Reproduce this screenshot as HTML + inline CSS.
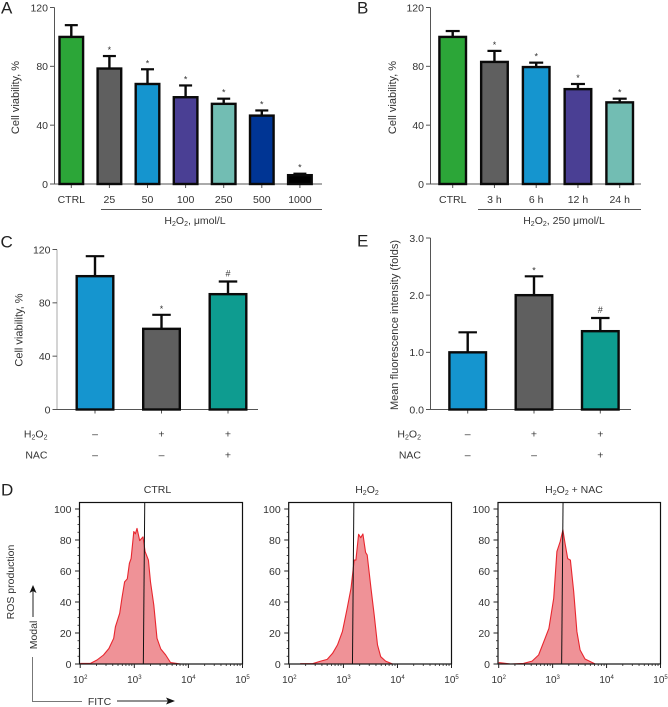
<!DOCTYPE html>
<html lang="en">
<head>
<meta charset="utf-8">
<title>Cell viability and ROS production</title>
<style>
html,body{margin:0;padding:0;background:#fff;}
svg{display:block;font-family:"Liberation Sans",sans-serif;fill:#333;}
</style>
</head>
<body>
<svg id="figure" xmlns="http://www.w3.org/2000/svg" width="668" height="707" viewBox="0 0 668 707" font-size="10.5">
  <rect width="668" height="707" fill="#fff"/>
  <g id="panel-a"></g>
  <g id="panel-b"></g>
  <g id="panel-c"></g>
  <g id="panel-e"></g>
  <g id="panel-d1"></g>
  <g id="panel-d2"></g>
  <g id="panel-d3"></g>

  <g font-size="17" fill="#222">
    <text x="1" y="13.5">A</text>
    <text x="357" y="13.5">B</text>
    <text x="0.5" y="247.5">C</text>
    <text x="357" y="246.5">E</text>
    <text x="1" y="495.5">D</text>
  </g>

  <g>
    <line x1="101" y1="209.5" x2="322" y2="209.5" stroke="#555" stroke-width="1"/>
    <text x="195" y="224" text-anchor="middle">H<tspan font-size="7" dy="2">2</tspan><tspan dy="-2">O</tspan><tspan font-size="7" dy="2">2</tspan><tspan dy="-2">, μmol/L</tspan></text>
    <line x1="478" y1="209.5" x2="641" y2="209.5" stroke="#555" stroke-width="1"/>
    <text x="564" y="224" text-anchor="middle">H<tspan font-size="7" dy="2">2</tspan><tspan dy="-2">O</tspan><tspan font-size="7" dy="2">2</tspan><tspan dy="-2">, 250 μmol/L</tspan></text>
  </g>

  <g>
    <text x="47.5" y="437.5" text-anchor="end">H<tspan font-size="7" dy="2">2</tspan><tspan dy="-2">O</tspan><tspan font-size="7" dy="2">2</tspan></text>
    <text x="47.5" y="458.5" text-anchor="end">NAC</text>
  </g>
  <g>
    <text x="421" y="437.5" text-anchor="end">H<tspan font-size="7" dy="2">2</tspan><tspan dy="-2">O</tspan><tspan font-size="7" dy="2">2</tspan></text>
    <text x="421" y="458.5" text-anchor="end">NAC</text>
  </g>

  <g>
    <text x="157.5" y="493" text-anchor="middle">CTRL</text>
    <text x="367" y="493" text-anchor="middle">H<tspan font-size="7" dy="2">2</tspan><tspan dy="-2">O</tspan><tspan font-size="7" dy="2">2</tspan></text>
    <text x="574" y="493" text-anchor="middle">H<tspan font-size="7" dy="2">2</tspan><tspan dy="-2">O</tspan><tspan font-size="7" dy="2">2</tspan><tspan dy="-2"> + NAC</tspan></text>
  </g>

  <g>
    <text transform="translate(14,582) rotate(-90)" text-anchor="middle">ROS production</text>
    <text transform="translate(37,635) rotate(-90)" text-anchor="middle">Modal</text>
    <text x="99.5" y="705" text-anchor="middle">FITC</text>
    <path d="M32.5 657V701.5H82" fill="none" stroke="#777" stroke-width="1"/>
    <line x1="33" y1="617" x2="33" y2="590" stroke="#222" stroke-width="1"/>
    <path d="M33 585L36.5 593L33 591L29.5 593Z" fill="#111"/>
    <line x1="117" y1="701" x2="170" y2="701" stroke="#222" stroke-width="1"/>
    <path d="M175 701L166 704.5L168 701L166 697.5Z" fill="#111"/>
  </g>
</svg>

<script>
const svgNS = 'http://www.w3.org/2000/svg';

// Panel A data
const aCategories = ['CTRL', '25', '50', '100', '250', '500', '1000'];
const aValues = [100, 78.5, 68, 59, 54.5, 46.5, 6];
const aErrorTops = [108, 87, 78, 67, 58, 50, 7];
const aMarks = ['', '*', '*', '*', '*', '*', '*'];
const aColors = ['#2ca638', '#5f5f5f', '#1595cf', '#4a3f94', '#72bdb3', '#003594', '#000000'];

// Panel B data
const bCategories = ['CTRL', '3 h', '6 h', '12 h', '24 h'];
const bValues = [100, 83, 79.5, 64.5, 55.5];
const bErrorTops = [104, 90.5, 82.5, 68, 58];
const bMarks = ['', '*', '*', '*', '*'];
const bColors = ['#2ca638', '#5f5f5f', '#1595cf', '#4a3f94', '#72bdb3'];

// Panel C data
const cH2O2 = ['–', '+', '+'];
const cNAC = ['–', '–', '+'];
const cValues = [100, 60.5, 86.5];
const cErrorTops = [115, 71, 96];
const cMarks = ['', '*', '#'];
const cColors = ['#1595cf', '#5f5f5f', '#0e9c90'];

// Panel E data
const eH2O2 = ['–', '+', '+'];
const eNAC = ['–', '–', '+'];
const eValues = [1.0, 2.0, 1.37];
const eErrorTops = [1.35, 2.33, 1.6];
const eMarks = ['', '*', '#'];
const eColors = ['#1595cf', '#5f5f5f', '#0e9c90'];

// Shared tick labels
const viabilityTicks = [0, 40, 80, 120];
const foldTicks = ['0.0', '1.0', '2.0', '3.0'];
const modalTicks = [0, 20, 40, 60, 80, 100];
const fitcExponents = [2, 3, 4, 5];

// Panel D data: log10(FITC intensity) and modal percent
const ctrlLogFitc = [2.00, 2.19, 2.31, 2.43, 2.53, 2.62, 2.65, 2.73, 2.77, 2.82, 2.87, 2.91, 2.94, 2.99, 3.02, 3.05, 3.10, 3.16, 3.20, 3.26, 3.30, 3.36, 3.42, 3.49, 3.58, 3.67, 3.86];
const ctrlModal = [0.4, 0.4, 2.6, 5.8, 10, 16.6, 24, 32.7, 42.4, 53, 55, 65, 68, 85.4, 84, 87.5, 79.6, 82, 72.5, 67, 53, 38, 16.6, 9.7, 5.8, 1, 0];
const ctrlGate = 3.18;

const h2o2LogFitc = [2.20, 2.43, 2.58, 2.70, 2.80, 2.89, 2.98, 3.07, 3.14, 3.20, 3.23, 3.28, 3.32, 3.36, 3.41, 3.44, 3.51, 3.57, 3.63, 3.69, 3.78, 3.91];
const h2o2Modal = [0.2, 0.2, 1.9, 3, 6.9, 12.3, 20.9, 36, 48.8, 67, 67, 83.7, 81.5, 83.9, 72, 70.3, 48.8, 31.6, 12.3, 4.7, 1.9, 0];
const h2o2Gate = 3.18;

const nacLogFitc = [2.00, 2.22, 2.46, 2.62, 2.74, 2.86, 2.93, 3.02, 3.08, 3.14, 3.19, 3.23, 3.28, 3.33, 3.39, 3.45, 3.51, 3.60, 3.79];
const nacModal = [0.9, 0, 0.4, 1.9, 5.8, 16.6, 23, 42.4, 72.5, 79, 86.5, 78, 68, 67, 46.7, 20.9, 9, 3.2, 0];
const nacGate = 3.18;

function mk(parent, tag, attrs, content) {
  const node = document.createElementNS(svgNS, tag);
  Object.keys(attrs).forEach(function (k) { node.setAttribute(k, attrs[k]); });
  if (content !== undefined) node.textContent = content;
  parent.appendChild(node);
  return node;
}

function linear(d0, d1, r0, r1) {
  return function (v) { return r0 + (v - d0) / (d1 - d0) * (r1 - r0); };
}

function drawBars(o) {
  const g = document.getElementById(o.id);
  const y = linear(0, o.yMax, o.y0, o.yTop);
  const x = function (i) { return o.firstCenter + i * o.step; };

  let el = mk(g, 'line', { x1: o.axisX, y1: o.yTop, x2: o.axisX, y2: o.y0, stroke: o.yAxisColor, 'stroke-width': 1 });
  
  

  el = mk(g, 'line', { x1: o.axisX - 4.5, y1: o.y0, x2: o.axisEnd, y2: o.y0, stroke: '#555', 'stroke-width': 1 });
  
  

  el = mk(g, 'text', { transform: 'translate(' + o.titleX + ',' + o.titleY + ') rotate(-90)', 'text-anchor': 'middle', 'font-size': 11 }, o.title);
  
  

  o.ticks.forEach(function (t) {
    const ty = y(parseFloat(t));
    const tick = mk(g, 'line', { x1: o.axisX - 4.5, y1: ty, x2: o.axisX, y2: ty, stroke: '#555', 'stroke-width': 1 });
    
    
    const lab = mk(g, 'text', { x: o.axisX - 6.5, y: ty + 3.8, 'text-anchor': 'end' }, String(t));
    
    
  });

  o.values.forEach(function (v, i) {
    const cx = x(i);
    const top = y(v);
    const errY = y(o.errors[i]);

    const tick = mk(g, 'line', { x1: cx, y1: o.y0, x2: cx, y2: o.y0 + 4, stroke: '#555', 'stroke-width': 1 });
    
    

    const stem = mk(g, 'line', { x1: cx, y1: errY, x2: cx, y2: top, stroke: '#0a0a0a', 'stroke-width': 2.4 });
    
    

    const cap = mk(g, 'line', { x1: cx - o.capW / 2, y1: errY, x2: cx + o.capW / 2, y2: errY, stroke: '#0a0a0a', 'stroke-width': 2.2 });
    
    

    const bar = mk(g, 'rect', { x: cx - o.barW / 2 + 1.2, y: top, width: o.barW - 2.4, height: o.y0 - top, fill: o.colors[i], stroke: '#0a0a0a', 'stroke-width': 2.4 });
    
    

    if (o.marks[i]) {
      const isHash = o.marks[i] === '#';
      const mark = mk(g, 'text', { x: cx, y: errY - (isHash ? 5 : 3), 'text-anchor': 'middle', 'font-size': 9 }, o.marks[i]);
      
      
    }

    if (o.categories) {
      const lab = mk(g, 'text', { x: cx, y: 203, 'text-anchor': 'middle' }, o.categories[i]);
      
      
    }
    if (o.rowA) {
      const a = mk(g, 'text', { x: cx, y: 437.5, 'text-anchor': 'middle' }, o.rowA[i]);
      
      
      const b = mk(g, 'text', { x: cx, y: 458.5, 'text-anchor': 'middle' }, o.rowB[i]);
      
      
    }
  });
}

function drawFlow(o) {
  const g = document.getElementById(o.id);
  const yTop = 502.5, y0 = 664, y100 = 509;
  const x = linear(2, 5, o.left + 0.7, o.right);
  const y = linear(0, 100, y0, y100);

  let d = 'M' + x(o.logFitc[0]).toFixed(1) + ' ' + y(0);
  o.logFitc.forEach(function (v, i) {
    d += 'L' + x(v).toFixed(1) + ' ' + y(o.modal[i]).toFixed(1);
  });
  const lastX = x(o.logFitc[o.logFitc.length - 1]).toFixed(1);
  let el = mk(g, 'path', { d: d + 'L' + lastX + ' ' + y(0) + 'Z', fill: '#ef9297', stroke: 'none' });
  
  

  let line = '';
  o.logFitc.forEach(function (v, i) {
    line += (i ? 'L' : 'M') + x(v).toFixed(1) + ' ' + y(o.modal[i]).toFixed(1);
  });
  el = mk(g, 'path', { d: line, fill: 'none', stroke: '#e8262e', 'stroke-width': 1.1, 'stroke-linejoin': 'round' });
  
  

  el = mk(g, 'line', { x1: x(o.gate) + 0.7, y1: yTop, x2: x(o.gate) - 0.7, y2: y0, stroke: '#111', 'stroke-width': 1 });
  
  

  el = mk(g, 'rect', { x: o.left, y: yTop, width: o.right - o.left, height: y0 - yTop, fill: 'none', stroke: '#111', 'stroke-width': 1.2 });
  
  

  modalTicks.forEach(function (t) {
    const tick = mk(g, 'line', { x1: o.left - 4.5, y1: y(t), x2: o.left, y2: y(t), stroke: '#222', 'stroke-width': 1 });
    
    
    const lab = mk(g, 'text', { x: o.left - 8, y: y(t) + 3.8, 'text-anchor': 'end' }, String(t));
    
    
    if (t < 100) {
      [5, 10, 15].forEach(function (m) {
        const minor = mk(g, 'line', { x1: o.left - 2, y1: y(t + m), x2: o.left, y2: y(t + m), stroke: '#222', 'stroke-width': 0.8 });
        
        
      });
    }
  });

  fitcExponents.forEach(function (e) {
    const tick = mk(g, 'line', { x1: x(e), y1: y0, x2: x(e), y2: y0 + 4, stroke: '#222', 'stroke-width': 1 });
    
    

    const lab = mk(g, 'text', { x: x(e), y: 683, 'text-anchor': 'middle', 'font-size': 10 }, '10');
    
    
    const sup = mk(lab, 'tspan', { 'font-size': 6, dy: -4 }, String(e));
    
    

    if (e < 5) {
      [2, 3, 4, 5, 6, 7, 8, 9].forEach(function (m) {
        const mx = x(e + Math.log10(m));
        const minor = mk(g, 'line', { x1: mx, y1: y0, x2: mx, y2: y0 + 2, stroke: '#222', 'stroke-width': 0.8 });
        
        
      });
    }
  });
}

drawBars({ id: 'panel-a', values: aValues, errors: aErrorTops, marks: aMarks, colors: aColors, categories: aCategories,
  ticks: viabilityTicks, yMax: 120, y0: 184, yTop: 7.5, axisX: 54.5, axisEnd: 322, yAxisColor: '#555',
  firstCenter: 71.3, step: 38.1, barW: 26, capW: 13, title: 'Cell viability, %', titleX: 19, titleY: 97.5 });

drawBars({ id: 'panel-b', values: bValues, errors: bErrorTops, marks: bMarks, colors: bColors, categories: bCategories,
  ticks: viabilityTicks, yMax: 120, y0: 184, yTop: 7.5, axisX: 430.5, axisEnd: 641, yAxisColor: '#555',
  firstCenter: 452.7, step: 41.75, barW: 29, capW: 14, title: 'Cell viability, %', titleX: 396, titleY: 97.5 });

drawBars({ id: 'panel-c', values: cValues, errors: cErrorTops, marks: cMarks, colors: cColors, rowA: cH2O2, rowB: cNAC,
  ticks: viabilityTicks, yMax: 120, y0: 409.5, yTop: 249.5, axisX: 57, axisEnd: 258, yAxisColor: '#aaa',
  firstCenter: 95, step: 66.5, barW: 39, capW: 18.5, title: 'Cell viability, %', titleX: 22.5, titleY: 330 });

drawBars({ id: 'panel-e', values: eValues, errors: eErrorTops, marks: eMarks, colors: eColors, rowA: eH2O2, rowB: eNAC,
  ticks: foldTicks, yMax: 3, y0: 409.5, yTop: 238, axisX: 430.5, axisEnd: 631, yAxisColor: '#555',
  firstCenter: 467.7, step: 66.3, barW: 39, capW: 18.5, title: 'Mean fluorescence intensity (folds)', titleX: 398, titleY: 325 });

drawFlow({ id: 'panel-d1', left: 79.5, right: 242.5, logFitc: ctrlLogFitc, modal: ctrlModal, gate: ctrlGate });
drawFlow({ id: 'panel-d2', left: 288.7, right: 451.5, logFitc: h2o2LogFitc, modal: h2o2Modal, gate: h2o2Gate });
drawFlow({ id: 'panel-d3', left: 498, right: 660.5, logFitc: nacLogFitc, modal: nacModal, gate: nacGate });
</script>
</body>
</html>
